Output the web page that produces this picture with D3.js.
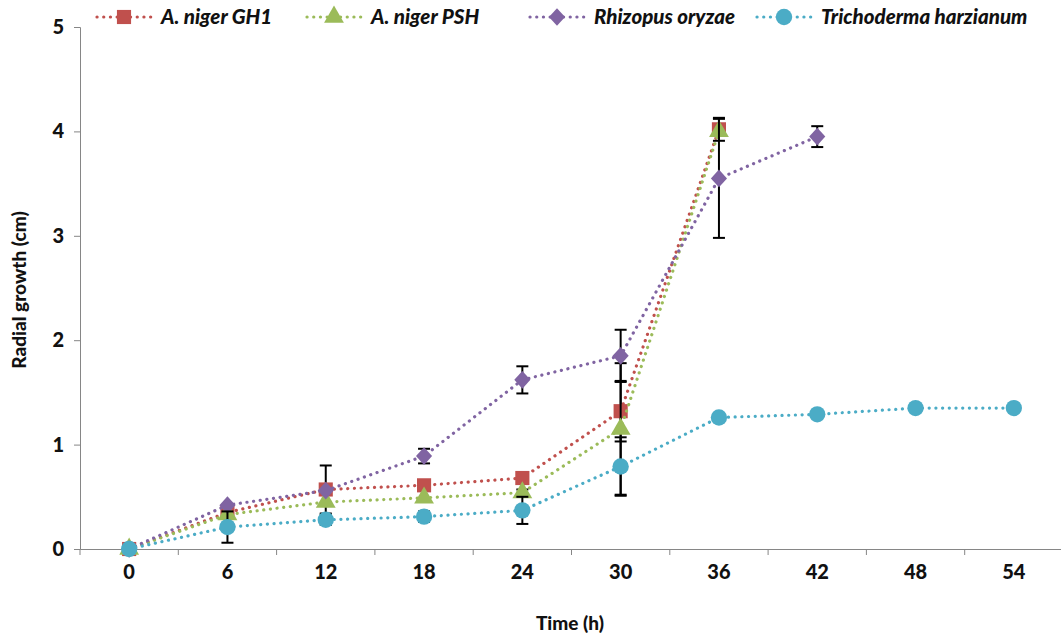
<!DOCTYPE html>
<html lang="en">
<head>
<meta charset="UTF-8">
<title>Radial growth</title>
<script src="https://d3js.org/d3.v7.min.js"></script>
<style>
  body { margin: 0; background: #fff; }
  svg { display: block; }
  text, .tick text { font-family: Lato, "Noto Sans", sans-serif; font-weight: 900; fill: #111; }
  .tick text { font-size: 20px; }
</style>
</head>
<body>
<svg id="chart" width="1061" height="637"></svg>
<script>
var hours = ["0", "6", "12", "18", "24", "30", "36", "42", "48", "54"];
var yTicks = [0, 1, 2, 3, 4, 5];

var seriesNames = ["A. niger GH1", "A. niger PSH", "Rhizopus oryzae", "Trichoderma harzianum"];
var gh1 = [0, 0.35, 0.57, 0.61, 0.68, 1.32, 4.02];
var psh = [0, 0.33, 0.45, 0.49, 0.54, 1.15, 4.0];
var rhizopus = [0, 0.42, 0.56, 0.89, 1.62, 1.85, 3.55, 3.95];
var tricho = [0, 0.21, 0.28, 0.31, 0.37, 0.79, 1.26, 1.29, 1.35, 1.35];

// standard deviations (0 = no bar shown)
var gh1Err = [0, 0, 0.23, 0, 0, 0.29, 0.11];
var pshErr = [0, 0, 0, 0, 0.03, 0.63, 0];
var rhizopusErr = [0, 0, 0, 0.07, 0.13, 0.25, 0.57, 0.1];
var trichoErr = [0, 0.15, 0.05, 0.05, 0.13, 0.28, 0, 0, 0, 0];

var colours = ["#C0504D", "#9BBB59", "#8064A2", "#4BACC6"];

// squarer diamond than d3's built-in one
var diamond = {
  draw: function(ctx, size) {
    var r = Math.sqrt(size / 2);
    ctx.moveTo(0, -r * 1.1); ctx.lineTo(r, 0); ctx.lineTo(0, r * 1.1); ctx.lineTo(-r, 0); ctx.closePath();
  }
};
var shapes = [d3.symbolSquare, d3.symbolTriangle, diamond, d3.symbolCircle];
var sizes = [200, 170, 130, 210];

var series = [
  {name: seriesNames[0], values: gh1, err: gh1Err},
  {name: seriesNames[1], values: psh, err: pshErr},
  {name: seriesNames[2], values: rhizopus, err: rhizopusErr},
  {name: seriesNames[3], values: tricho, err: trichoErr}
];

var svg = d3.select("#chart");
var x = d3.scaleBand().domain(hours).range([80, 1063]).padding(0);
var y = d3.scaleLinear().domain([0, 5]).range([549, 27]);
function cx(i) { return x(hours[i]) + x.bandwidth() / 2; }

// y axis
var yAxis = svg.append("g").attr("transform", "translate(80,0)")
  .call(d3.axisLeft(y).tickValues(yTicks).tickSize(6).tickPadding(10).tickFormat(d3.format("d")));
yAxis.select(".domain").attr("stroke", "#868686");
yAxis.selectAll(".tick line").attr("stroke", "#868686");

// x axis: labels centred on categories, ticks at boundaries
var xAxis = svg.append("g").attr("transform", "translate(0,549)")
  .call(d3.axisBottom(x).tickSize(0).tickPadding(26));
xAxis.select(".domain").attr("stroke", "#868686");
xAxis.selectAll(".tick text").attr("dy", "0.2em");
xAxis.selectAll(".bound").data(hours.concat(["end"])).enter().append("line")
  .attr("x1", function(d, i) { return 80 + i * x.bandwidth(); })
  .attr("x2", function(d, i) { return 80 + i * x.bandwidth(); })
  .attr("y1", 0).attr("y2", 6).attr("stroke", "#868686");

// axis titles
svg.append("text").attr("x", 570).attr("y", 630).attr("text-anchor", "middle")
  .style("font-size", "19px").text("Time (h)");
svg.append("text").attr("transform", "translate(26,290) rotate(-90)").attr("text-anchor", "middle")
  .style("font-size", "19px").text("Radial growth (cm)");

var line = d3.line().x(function(d, i) { return cx(i); }).y(function(d) { return y(d); });

series.forEach(function(s, k) {
  var g = svg.append("g");
  g.append("path").datum(s.values).attr("d", line)
    .attr("fill", "none").attr("stroke", colours[k]).attr("stroke-width", 3.2)
    .attr("stroke-linecap", "round").attr("stroke-dasharray", "0.1,6.6");
  var eb = g.selectAll(".err").data(s.values.map(function(v, i) { return {v: v, e: s.err[i], i: i}; })
    .filter(function(d) { return d.e > 0; })).enter().append("g");
  eb.append("line").attr("x1", function(d) { return cx(d.i); }).attr("x2", function(d) { return cx(d.i); })
    .attr("y1", function(d) { return y(d.v - d.e); }).attr("y2", function(d) { return y(d.v + d.e); })
    .attr("stroke", "#000").attr("stroke-width", 2);
  [-1, 1].forEach(function(sign) {
    eb.append("line").attr("x1", function(d) { return cx(d.i) - 6; }).attr("x2", function(d) { return cx(d.i) + 6; })
      .attr("y1", function(d) { return y(d.v + sign * d.e); }).attr("y2", function(d) { return y(d.v + sign * d.e); })
      .attr("stroke", "#000").attr("stroke-width", 2);
  });
  g.selectAll(".mk").data(s.values).enter().append("path")
    .attr("d", d3.symbol().type(shapes[k]).size(sizes[k]))
    .attr("transform", function(d, i) { return "translate(" + cx(i) + "," + y(d) + ")"; })
    .attr("fill", colours[k]);
});

// legend
var legendX = [97, 307, 530, 757];
var legend = svg.selectAll(".leg").data(series).enter().append("g")
  .attr("transform", function(d, i) { return "translate(" + legendX[i] + ",17)"; });
legend.append("line").attr("x1", 0).attr("x2", 54).attr("y1", 0).attr("y2", 0)
  .attr("stroke", function(d, i) { return colours[i]; }).attr("stroke-width", 3.2)
  .attr("stroke-linecap", "round").attr("stroke-dasharray", "0.1,6.6");
legend.append("path").attr("d", function(d, i) { return d3.symbol().type(shapes[i]).size(sizes[i])(); })
  .attr("transform", "translate(27,0)").attr("fill", function(d, i) { return colours[i]; });
legend.append("text").attr("x", 64).attr("y", 7)
  .style("font-style", "italic").style("font-size", "20.5px")
  .text(function(d) { return d.name; });
</script>
</body>
</html>
